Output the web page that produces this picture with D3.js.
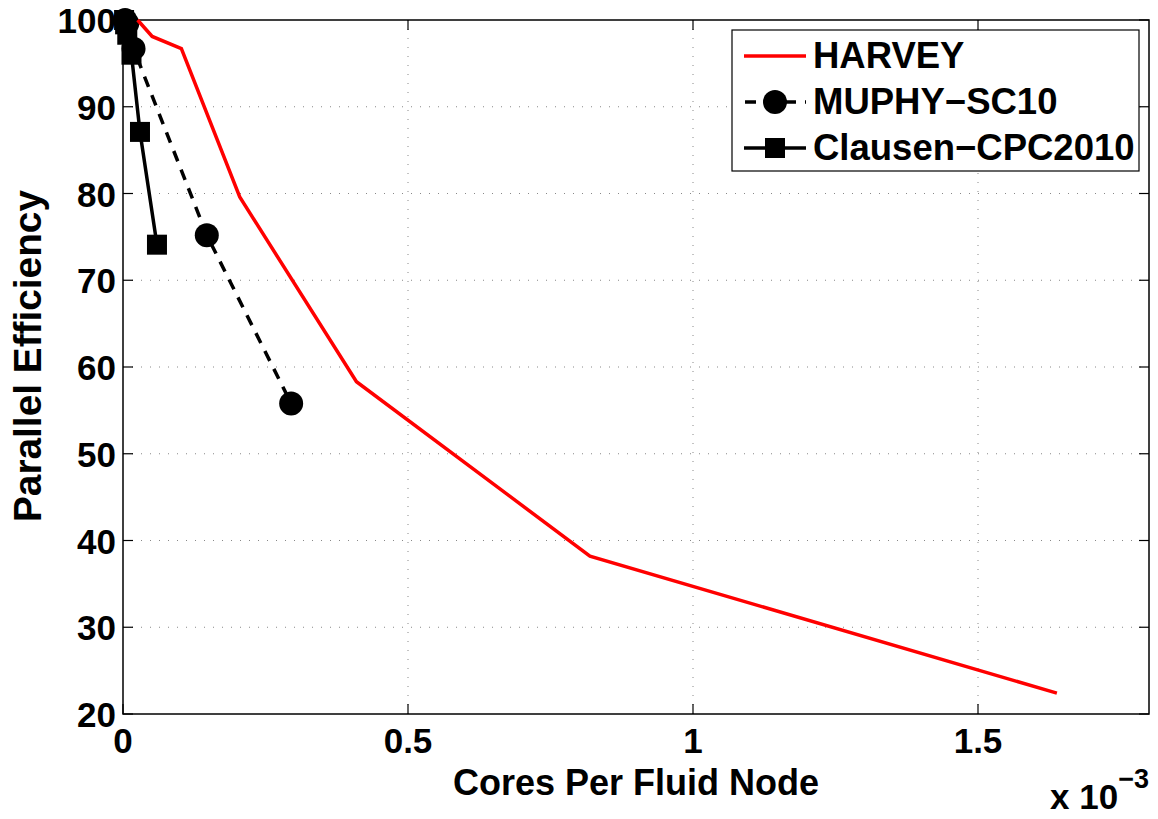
<!DOCTYPE html>
<html><head><meta charset="utf-8">
<script src="https://cdn.jsdelivr.net/npm/d3@7"></script>
<style>body{margin:0;background:#fff}svg{display:block}text{font-family:"Liberation Sans",Arial,sans-serif;font-weight:bold}</style>
</head><body><svg id="c" width="1158" height="819"></svg>
<script>
const harveyX=[0.0256,0.0512,0.1024,0.2048,0.4096,0.8192,1.6384];
const harveyY=[100,98.1,96.7,79.6,58.3,38.2,22.4];
const muphyX=[0.0037,0.0074,0.0185,0.147,0.295];
const muphyY=[100,99.6,96.7,75.2,55.8];
const clausenX=[0.0019,0.0037,0.0075,0.0149,0.0298,0.0596];
const clausenY=[100,99.5,98.3,96.0,87.1,74.1];
const xTicks=[0,0.5,1,1.5];
const xTickLabels=["0","0.5","1","1.5"];
const yTicks=[20,30,40,50,60,70,80,90,100];
const legendLabels=["HARVEY","MUPHY\u2212SC10","Clausen\u2212CPC2010"];

const svg=d3.select("#c");
const L=123,R=1149,T=20,B=714;
const x=d3.scaleLinear().domain([0,1.8]).range([L,R]);
const y=d3.scaleLinear().domain([20,100]).range([B,T]);

// grid
const g=svg.append("g");
g.selectAll(".gx").data(xTicks.slice(1)).enter().append("line")
 .attr("x1",d=>x(d)).attr("x2",d=>x(d)).attr("y1",T).attr("y2",B)
 .attr("stroke","#888").attr("stroke-width",1).attr("stroke-dasharray","1,8");
g.selectAll(".gy").data(yTicks.slice(1,-1)).enter().append("line")
 .attr("y1",d=>y(d)).attr("y2",d=>y(d)).attr("x1",L).attr("x2",R)
 .attr("stroke","#888").attr("stroke-width",1).attr("stroke-dasharray","1,8");

// frame
svg.append("rect").attr("x",L).attr("y",T).attr("width",R-L).attr("height",B-T)
 .attr("fill","none").attr("stroke","#000").attr("stroke-width",1.5);

// ticks (inside, both sides)
const tk=10;
xTicks.forEach(d=>{
 svg.append("line").attr("x1",x(d)).attr("x2",x(d)).attr("y1",B).attr("y2",B-tk).attr("stroke","#000").attr("stroke-width",1.2);
 svg.append("line").attr("x1",x(d)).attr("x2",x(d)).attr("y1",T).attr("y2",T+tk).attr("stroke","#000").attr("stroke-width",1.2);
});
yTicks.forEach(d=>{
 svg.append("line").attr("y1",y(d)).attr("y2",y(d)).attr("x1",L).attr("x2",L+tk).attr("stroke","#000").attr("stroke-width",1.2);
 svg.append("line").attr("y1",y(d)).attr("y2",y(d)).attr("x1",R).attr("x2",R-tk).attr("stroke","#000").attr("stroke-width",1.2);
});

// tick labels
svg.selectAll(".xl").data(xTicks).enter().append("text")
 .attr("x",d=>x(d)).attr("y",753).attr("text-anchor","middle").attr("font-size",35)
 .text((d,i)=>xTickLabels[i]);
svg.selectAll(".yl").data(yTicks).enter().append("text")
 .attr("x",L-7).attr("y",d=>y(d)+13).attr("text-anchor","end").attr("font-size",35)
 .text(d=>d);

// axis labels
svg.append("text").attr("x",636).attr("y",795).attr("text-anchor","middle").attr("font-size",36)
 .text("Cores Per Fluid Node");
svg.append("text").attr("transform","translate(41,356) rotate(-90)").attr("text-anchor","middle")
 .attr("font-size",38).attr("textLength",332).attr("lengthAdjust","spacingAndGlyphs").text("Parallel Efficiency");
const ex=svg.append("text").attr("x",1050).attr("y",809).attr("font-size",35);
ex.append("tspan").text("x 10");
ex.append("tspan").attr("dy",-21).attr("font-size",27).text("\u22123");

// series
const line=d3.line().x(d=>x(d[0])).y(d=>y(d[1]));
const hv=harveyX.map((v,i)=>[v,harveyY[i]]);
const mu=muphyX.map((v,i)=>[v,muphyY[i]]);
const cl=clausenX.map((v,i)=>[v,clausenY[i]]);
svg.append("path").attr("d",line(mu)).attr("fill","none").attr("stroke","#000").attr("stroke-width",3.5).attr("stroke-dasharray","11,9");
svg.append("path").attr("d",line(cl)).attr("fill","none").attr("stroke","#000").attr("stroke-width",3.5);
svg.selectAll(".mc").data(mu).enter().append("circle").attr("cx",d=>x(d[0])).attr("cy",d=>y(d[1])).attr("r",12).attr("fill","#000");
svg.selectAll(".cs").data(cl).enter().append("rect").attr("x",d=>x(d[0])-10).attr("y",d=>y(d[1])-10).attr("width",20).attr("height",20).attr("fill","#000");
svg.append("path").attr("d",line(hv)).attr("fill","none").attr("stroke","#f00").attr("stroke-width",3.5);

// legend
const lg=svg.append("g");
lg.append("rect").attr("x",732).attr("y",30).attr("width",407).attr("height",141).attr("fill","#fff").attr("stroke","#000").attr("stroke-width",1.2);
const ly=[56,102,148];
lg.append("line").attr("x1",744).attr("x2",806).attr("y1",ly[0]).attr("y2",ly[0]).attr("stroke","#f00").attr("stroke-width",3.5);
lg.append("line").attr("x1",744).attr("x2",806).attr("y1",ly[1]).attr("y2",ly[1]).attr("stroke","#000").attr("stroke-width",3.5).attr("stroke-dasharray","11,9").attr("stroke-dashoffset",-1);
lg.append("circle").attr("cx",775).attr("cy",ly[1]).attr("r",12).attr("fill","#000");
lg.append("line").attr("x1",744).attr("x2",806).attr("y1",ly[2]).attr("y2",ly[2]).attr("stroke","#000").attr("stroke-width",3.5);
lg.append("rect").attr("x",765).attr("y",ly[2]-10).attr("width",20).attr("height",20).attr("fill","#000");
lg.selectAll(".lt").data(legendLabels).enter().append("text").attr("x",813).attr("y",(d,i)=>ly[i]+12)
 .attr("font-size",36.5).text(d=>d);
</script></body></html>
